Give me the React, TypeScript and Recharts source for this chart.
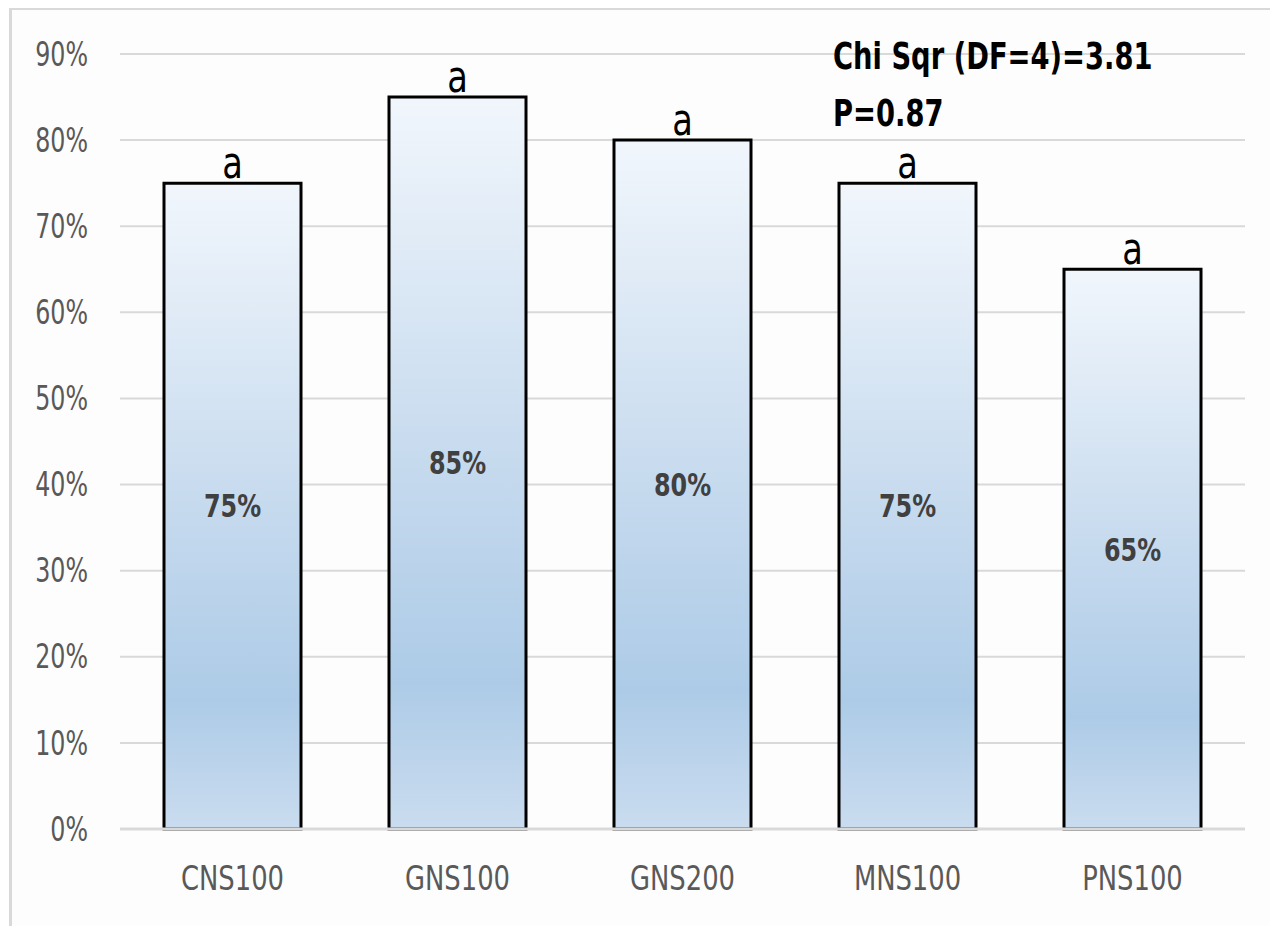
import React from "react";
import {
  BarChart,
  Bar,
  XAxis,
  YAxis,
  CartesianGrid,
  LabelList,
  ReferenceLine,
} from "recharts";

// survival rate per treatment (%)
const treatments = ["CNS100", "GNS100", "GNS200", "MNS100", "PNS100"];
const survival = [75, 85, 80, 75, 65];
const groups = ["a", "a", "a", "a", "a"];
const percentTicks = [0, 10, 20, 30, 40, 50, 60, 70, 80, 90];
const statLines = ["Chi Sqr (DF=4)=3.81", "P=0.87"];

const data = treatments.map((name, i) => ({
  name,
  value: survival[i],
  group: groups[i],
}));

const FONT = '"Liberation Sans Narrow", "DejaVu Sans Condensed", sans-serif';
const GRID = "#d9d9d9";
const tickStyle = { fill: "#595959", fontSize: 33, fontFamily: FONT };

// narrow, Calibri-like lettering: squeeze the text horizontally
const YTick = ({ x, y, payload }: any) => (
  <text
    transform={`translate(${x},${y}) scale(0.8,1)`}
    textAnchor="end"
    dy="0.355em"
    {...tickStyle}
  >
    {`${payload.value}%`}
  </text>
);

const XTick = ({ x, y, payload }: any) => (
  <text
    transform={`translate(${x},${y}) scale(0.87,1)`}
    textAnchor="middle"
    dy="0.71em"
    {...tickStyle}
  >
    {payload.value}
  </text>
);

const ValueLabel = ({ x, y, width, height, value }: any) => (
  <text
    transform={`translate(${x + width / 2},${y + height / 2}) scale(0.83,1)`}
    textAnchor="middle"
    dy="0.355em"
    fill="#404040"
    fontSize={32}
    fontWeight="bold"
    fontFamily={FONT}
  >
    {`${value}%`}
  </text>
);

const GroupLabel = ({ x, y, width, value }: any) => (
  <text
    transform={`translate(${x + width / 2},${y - 5}) scale(0.85,1)`}
    textAnchor="middle"
    fill="#000"
    fontSize={44}
    fontFamily={FONT}
  >
    {value}
  </text>
);

export default function App() {
  return (
    <div
      style={{
        position: "relative",
        width: 1267,
        height: 919,
        marginLeft: 1,
        marginTop: -1,
        borderTop: `3px solid ${GRID}`,
        borderLeft: `3px solid ${GRID}`,
        background: "#fdfdfd",
      }}
    >
      <BarChart
        width={1267}
        height={916}
        data={data}
        margin={{ top: 44, right: 34, left: 0, bottom: 0 }}
      >
        <defs>
          <linearGradient id="bar-fill" x1="0" y1="0" x2="0" y2="1">
            <stop offset="0" stopColor="#f1f6fc" />
            <stop offset="0.5" stopColor="#c6daee" />
            <stop offset="0.8" stopColor="#adcbe7" />
            <stop offset="1" stopColor="#cadcef" />
          </linearGradient>
        </defs>
        <CartesianGrid vertical={false} stroke={GRID} strokeWidth={2} />
        <XAxis
          dataKey="name"
          axisLine={false}
          tickLine={false}
          tickSize={0}
          tickMargin={38}
          height={97}
          tick={<XTick />}
        />
        <YAxis
          domain={[0, 90]}
          ticks={percentTicks}
          axisLine={false}
          tickLine={false}
          tickSize={0}
          tickMargin={32}
          width={108}
          tick={<YTick />}
        />
        <Bar
          dataKey="value"
          fill="url(#bar-fill)"
          stroke="#000"
          strokeWidth={3}
          barSize={137}
          isAnimationActive={false}
        >
          <LabelList dataKey="value" content={<ValueLabel />} />
          <LabelList dataKey="group" content={<GroupLabel />} />
        </Bar>
        <ReferenceLine y={0} stroke={GRID} strokeWidth={3} />
      </BarChart>
      <div
        style={{
          position: "absolute",
          left: 821,
          top: 18,
          fontFamily: FONT,
          fontWeight: "bold",
          fontSize: 38,
          lineHeight: "57px",
          color: "#000",
          whiteSpace: "nowrap",
          transform: "scaleX(0.8)",
          transformOrigin: "left top",
        }}
      >
        {statLines.map((line) => (
          <div key={line}>{line}</div>
        ))}
      </div>
    </div>
  );
}
